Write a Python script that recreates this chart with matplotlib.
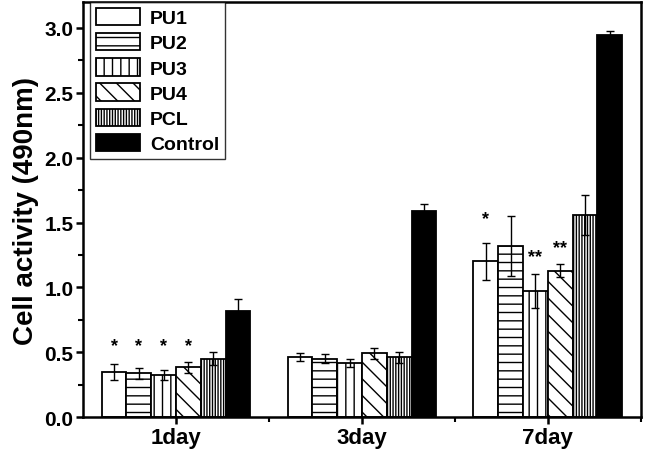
import numpy as np
import matplotlib.pyplot as plt
from matplotlib.ticker import MultipleLocator, FixedLocator

plt.rcParams['font.family'] = ['Liberation Sans', 'DejaVu Sans']
plt.rcParams['font.weight'] = 'bold'
plt.rcParams['hatch.linewidth'] = 1.0

days = ['1day', '3day', '7day']
groups = ['PU1', 'PU2', 'PU3', 'PU4', 'PCL', 'Control']

pu1 = [0.345, 0.46, 1.20]
pu2 = [0.337, 0.45, 1.32]
pu3 = [0.326, 0.414, 0.974]
pu4 = [0.383, 0.49, 1.128]
pcl = [0.45, 0.46, 1.557]
control = [0.82, 1.59, 2.948]

pu1_err = [0.06, 0.03, 0.14]
pu2_err = [0.04, 0.035, 0.23]
pu3_err = [0.04, 0.03, 0.13]
pu4_err = [0.044, 0.04, 0.05]
pcl_err = [0.05, 0.045, 0.154]
control_err = [0.09, 0.05, 0.03]

# significance marks: (group index, day index, label, height)
stars = [(0, 0, '*', 0.55), (1, 0, '*', 0.55), (2, 0, '*', 0.55), (3, 0, '*', 0.55),
         (0, 2, '*', 1.53), (2, 2, '**', 1.24), (3, 2, '**', 1.31)]

values = [pu1, pu2, pu3, pu4, pcl, control]
errors = [pu1_err, pu2_err, pu3_err, pu4_err, pcl_err, control_err]
hatches = ['', '--', '||', '\\\\', '||||||', '']
fills = ['white'] * 5 + ['black']

fig = plt.figure(figsize=(6.46, 4.56), dpi=100)
ax = fig.add_axes([0.1285, 0.0833, 0.8635, 0.91])

x = np.arange(1, len(days) + 1)
w = 0.8 / len(groups)
for i, g in enumerate(groups):
    pos = x - 0.4 + w * (i + 0.5)
    ax.bar(pos, values[i], w, color=fills[i], edgecolor='black', linewidth=1.3,
           hatch=hatches[i], label=g, zorder=2)
    ax.errorbar(pos, values[i], yerr=errors[i], fmt='none', ecolor='black',
                elinewidth=1.0, capsize=3, capthick=1.0, zorder=3)

for gi, di, s, h in stars:
    ax.text(x[di] - 0.4 + w * (gi + 0.5), h, s, ha='center', va='center',
            fontsize=13)

ax.set_xlim(0.5, 3.5)
ax.set_ylim(0, 3.2)
ax.set_xticks(x)
ax.set_xticklabels(days, fontsize=16, fontweight='bold')
ax.xaxis.set_minor_locator(FixedLocator([1.5, 2.5, 3.5]))
ax.yaxis.set_major_locator(MultipleLocator(0.5))
ax.yaxis.set_minor_locator(MultipleLocator(0.25))
ax.yaxis.set_major_formatter(plt.FormatStrFormatter('%.1f'))
for lab in ax.get_yticklabels():
    lab.set_fontsize(15)
    lab.set_fontweight('bold')
ax.tick_params(axis='both', which='major', direction='out', length=5, width=1.8, pad=2)
ax.tick_params(axis='both', which='minor', direction='out', length=3.5, width=1.5)
ax.tick_params(top=False, right=False)
for sp in ax.spines.values():
    sp.set_linewidth(1.8)

ax.set_ylabel('Cell activity (490nm)', fontsize=20, fontweight='bold', labelpad=4)

leg = ax.legend(loc='upper left', bbox_to_anchor=(0.012, 1.0), fontsize=14,
                frameon=True, fancybox=False, edgecolor='black', handlelength=2.3,
                handleheight=1.0, labelspacing=0.3, borderpad=0.3, handletextpad=0.5,
                borderaxespad=0.0)
leg.get_frame().set_linewidth(1.0)
for t in leg.get_texts():
    t.set_fontweight('bold')

fig.savefig('out.png', dpi=100)
